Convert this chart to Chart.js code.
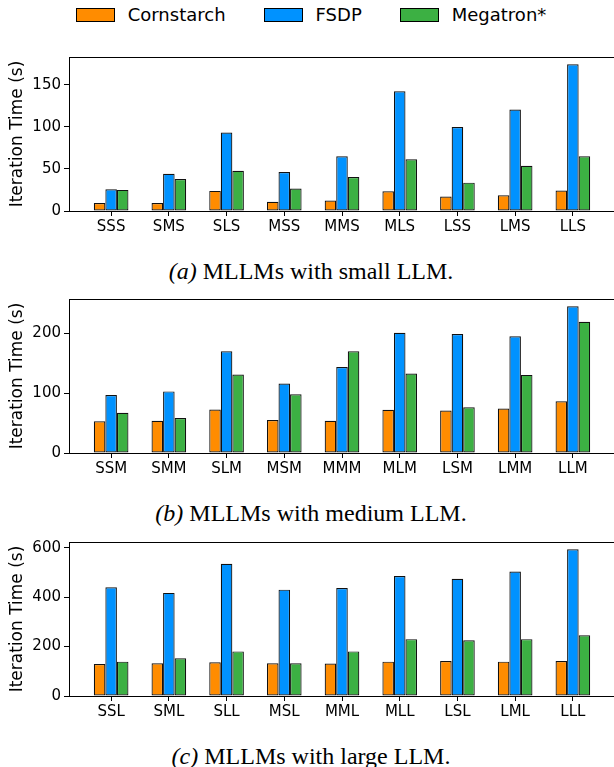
<!DOCTYPE html>
<html><head><meta charset="utf-8">
<script src="https://cdn.jsdelivr.net/npm/chart.js@4/dist/chart.umd.min.js"></script>
<style>
html,body{margin:0;padding:0;background:#fff;width:614px;height:767px;overflow:hidden;}
#wrap{position:relative;width:614px;height:767px;overflow:hidden;}
canvas{position:absolute;left:0;}
.cap{position:absolute;left:0;width:622px;text-align:center;font-family:"Liberation Serif","Times New Roman",serif;font-size:24px;line-height:24px;color:#000;white-space:nowrap;}
#legend{position:absolute;left:0;top:6px;width:622px;height:18px;display:flex;justify-content:center;align-items:center;font-family:"DejaVu Sans",sans-serif;font-size:18px;line-height:18px;color:#000;white-space:nowrap;}
.item{display:flex;align-items:center;margin:0 19px;}
.box{width:39px;height:14px;box-sizing:border-box;border:1px solid #000;margin-right:13px;}
</style></head>
<body><div id="wrap">
<div id="legend"></div>
<canvas id="ca" width="622" height="195" style="top:45px"></canvas>
<div class="cap" style="top:259px"><i>(a)</i> MLLMs with small LLM.</div>
<canvas id="cb" width="622" height="195" style="top:287px"></canvas>
<div class="cap" style="top:501px"><i>(b)</i> MLLMs with medium LLM.</div>
<canvas id="cc" width="622" height="195" style="top:530px"></canvas>
<div class="cap" style="top:744px"><i>(c)</i> MLLMs with large LLM.</div>
</div>
<script>
const seriesNames = ['Cornstarch', 'FSDP', 'Megatron*'];
const seriesColors = ['#FF8C00', '#0092FF', '#3CB043'];

const catsA = ['SSS','SMS','SLS','MSS','MMS','MLS','LSS','LMS','LLS'];
const cornA = [9.4, 9.4, 23.9, 11, 12.5, 23.5, 17.2, 18.8, 24.3];
const fsdpA = [25.9, 44.3, 93.2, 46.2, 65, 142.2, 99.9, 120.6, 174.3];
const megaA = [25.1, 38, 47.8, 26.6, 40.3, 61.5, 33.7, 53.7, 65];
const ticksA = [0, 50, 100, 150];

const catsB = ['SSM','SMM','SLM','MSM','MMM','MLM','LSM','LMM','LLM'];
const cornB = [52.9, 54, 72.7, 55.1, 54, 72.2, 71.1, 74.4, 86.5];
const fsdpB = [97, 103, 170.2, 116.3, 143.8, 201.1, 198.9, 195, 245.2];
const megaB = [67.2, 58.4, 131.1, 98.1, 170.2, 132.8, 76.6, 130.6, 219.3];
const ticksB = [0, 100, 200];

const catsC = ['SSL','SML','SLL','MSL','MML','MLL','LSL','LML','LLL'];
const cornC = [129.6, 132.3, 136.3, 132.3, 131, 139, 141.7, 139, 141.7];
const fsdpC = [439.7, 417, 534.5, 430.3, 437, 485, 474.4, 503.8, 593.3];
const megaC = [139, 152.3, 180.4, 132.3, 180.4, 229.9, 225.8, 229.9, 245.9];
const ticksC = [0, 200, 400, 600];

const yTitle = 'Iteration Time (s)';

// legend (HTML) from series names/colors
const leg = document.getElementById('legend');
seriesNames.forEach((n, i) => {
  const it = document.createElement('div'); it.className = 'item';
  const b = document.createElement('div'); b.className = 'box'; b.style.background = seriesColors[i];
  const t = document.createElement('span'); t.textContent = n;
  it.appendChild(b); it.appendChild(t); leg.appendChild(it);
});

const framePlugin = {
  id: 'frame',
  afterDatasetsDraw(chart) {
    const {ctx, chartArea: a} = chart;
    ctx.save();
    ctx.strokeStyle = '#000';
    ctx.lineWidth = 1;
    ctx.strokeRect(Math.round(a.left) + 0.5, Math.round(a.top) + 0.5,
      Math.round(a.right - a.left), Math.round(a.bottom - a.top));
    ctx.restore();
  }
};

function makeChart(id, cats, series, ticks) {
  const n = cats.length;
  const margin = 0.05 * (n - 1 + 0.6);
  const xMin = -0.3 - margin, xMax = n - 1 + 0.3 + margin;
  const allMax = Math.max(...series.flat());
  const datasets = series.map((vals, i) => ({
    label: seriesNames[i],
    data: vals.map((v, j) => ({x: j, y: v})),
    backgroundColor: seriesColors[i],
    borderColor: '#111',
    borderWidth: 1.2,
    borderSkipped: false,
    categoryPercentage: 0.6,
    barPercentage: 1.0
  }));
  return new Chart(document.getElementById(id), {
    type: 'bar',
    data: {datasets},
    plugins: [framePlugin],
    options: {
      responsive: false,
      animation: false,
      devicePixelRatio: 1,
      layout: {padding: {top: 10, right: 7, left: 0, bottom: 0}},
      plugins: {legend: {display: false}, tooltip: {enabled: false}},
      scales: {
        x: {
          type: 'linear', min: xMin, max: xMax, offset: false,
          grid: {display: true, drawOnChartArea: false, drawTicks: true, tickLength: 5, color: '#000', lineWidth: 1, offset: false},
          border: {display: false},
          afterBuildTicks: (s) => { s.ticks = cats.map((c, i) => ({value: i})); },
          afterFit: (s) => { s.height = 29; },
          ticks: {
            autoSkip: false, maxRotation: 0, padding: 2, color: '#000',
            font: {family: 'DejaVu Sans', size: 15},
            callback: (v) => cats[v]
          }
        },
        y: {
          min: 0, max: allMax * 1.05,
          grid: {display: true, drawOnChartArea: false, drawTicks: true, tickLength: 5, color: '#000', lineWidth: 1},
          border: {display: false},
          afterBuildTicks: (s) => { s.ticks = ticks.map(v => ({value: v})); },
          afterFit: (s) => { s.width = 69; },
          title: {display: true, text: yTitle, color: '#000', font: {family: 'DejaVu Sans', size: 17}, padding: {top: 7, bottom: 0}},
          ticks: {padding: 3, color: '#000', font: {family: 'DejaVu Sans', size: 15}, callback: (v) => String(v)}
        }
      }
    }
  });
}

makeChart('ca', catsA, [cornA, fsdpA, megaA], ticksA);
makeChart('cb', catsB, [cornB, fsdpB, megaB], ticksB);
makeChart('cc', catsC, [cornC, fsdpC, megaC], ticksC);
</script>
</body></html>
